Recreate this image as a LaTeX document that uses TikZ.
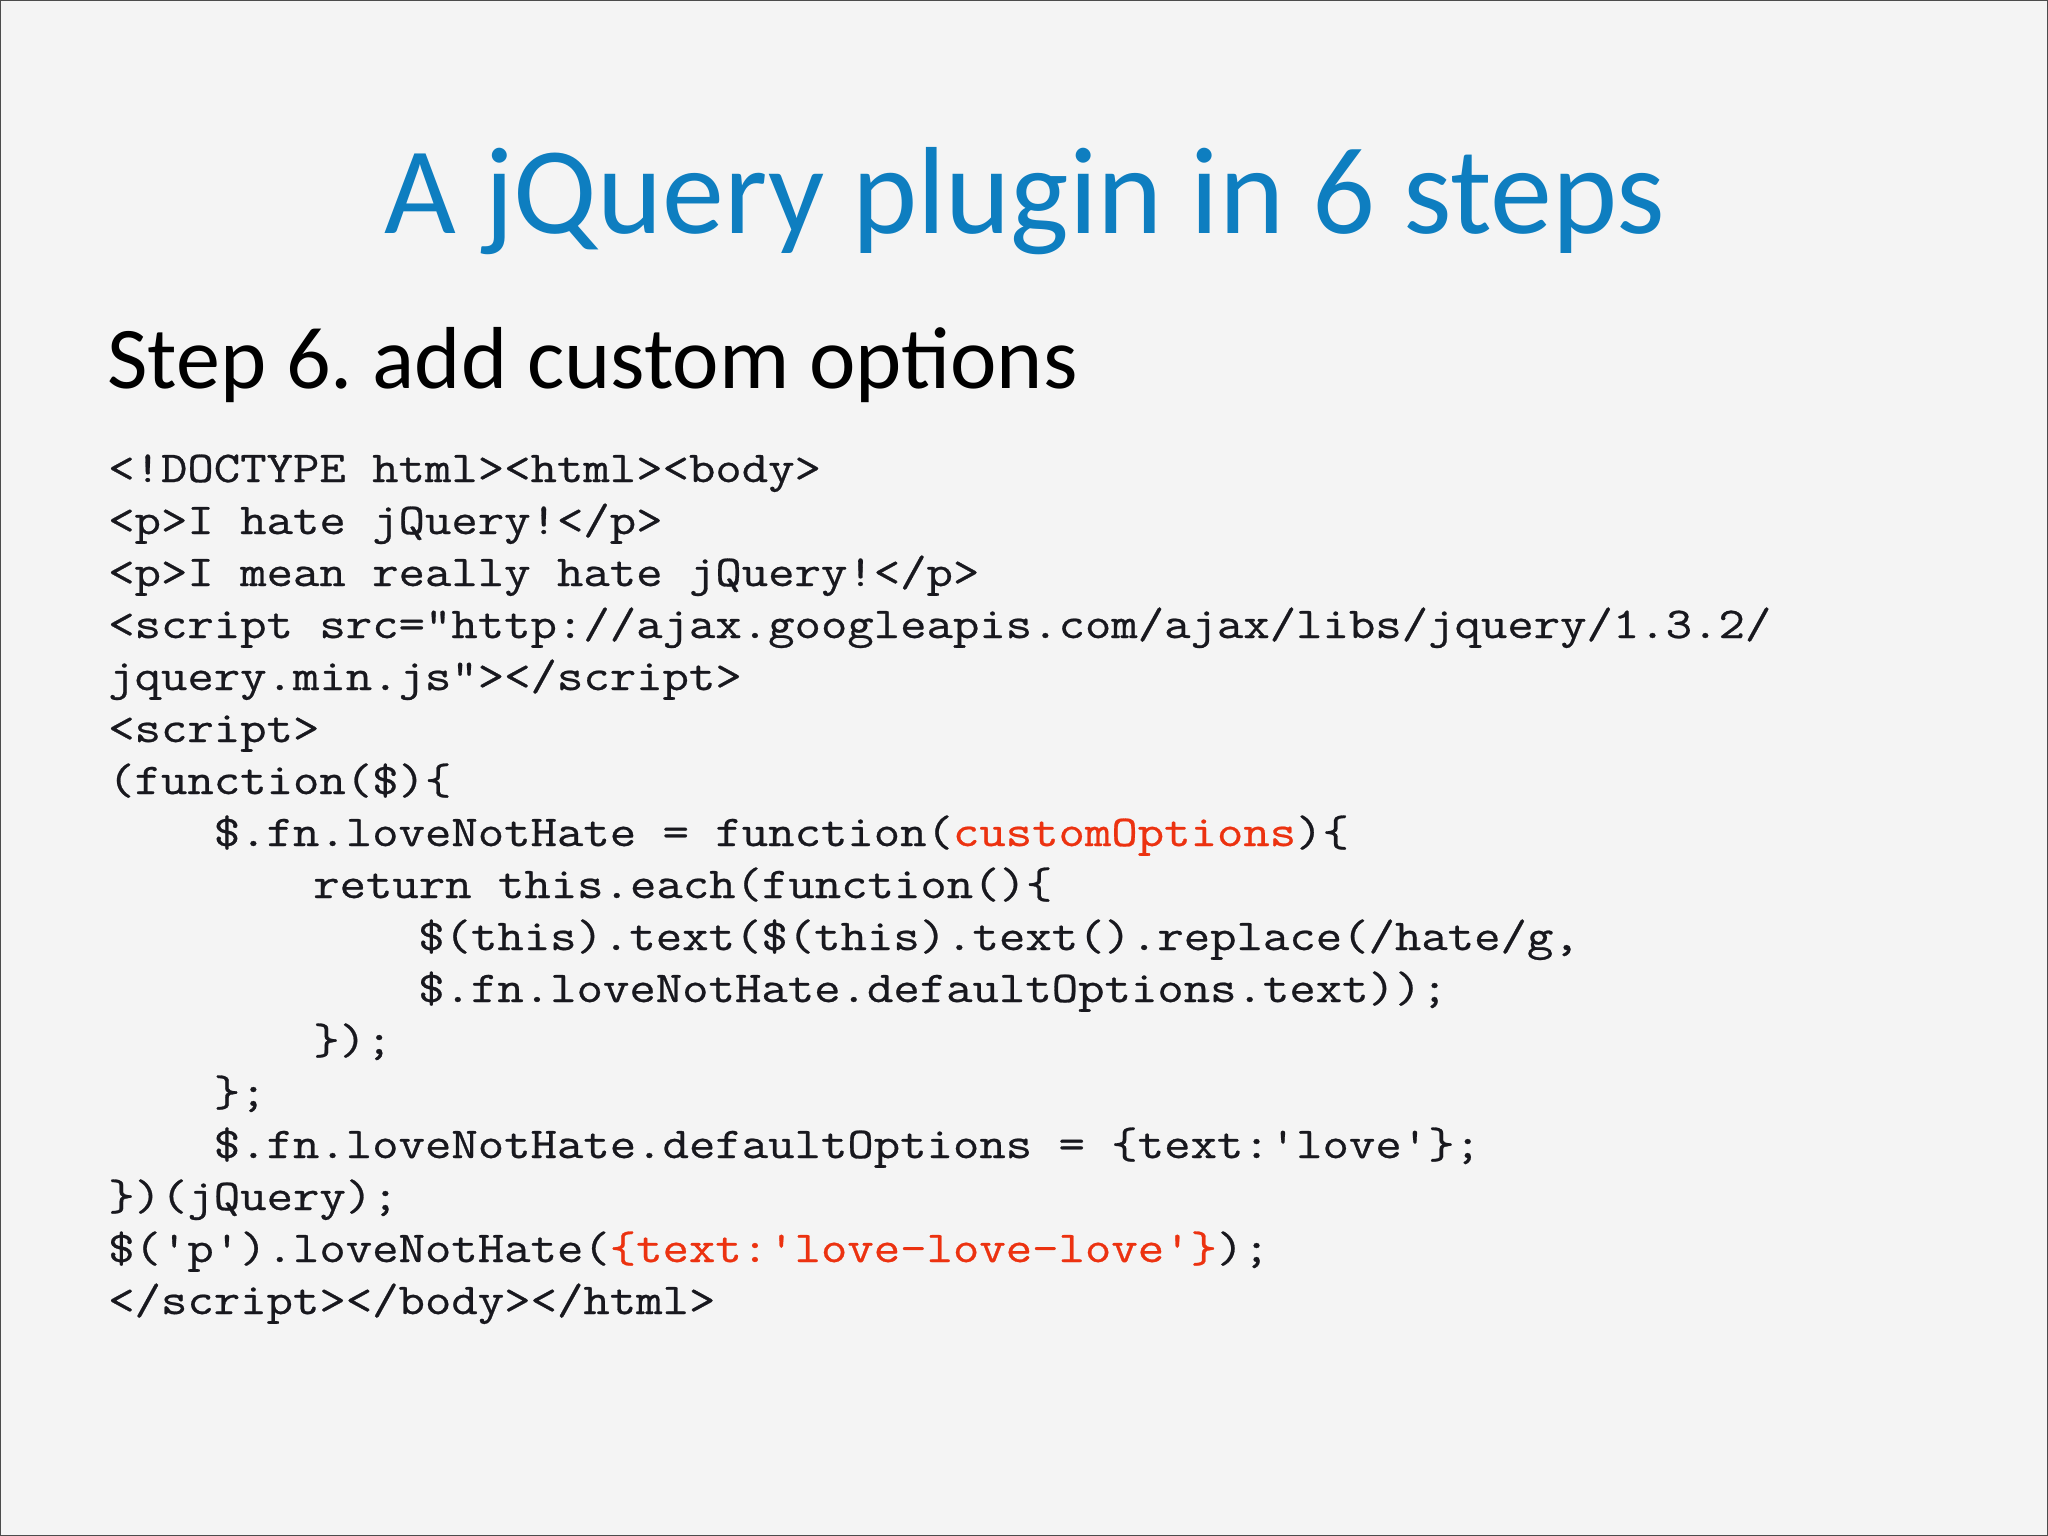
\documentclass[tikz,border=0pt]{standalone}
\usepackage{fontspec}
\setmonofont{Latin Modern Mono}[FakeStretch=1.165,FakeBold=0.6]
\newfontfamily\slidefont{Carlito}
\usetikzlibrary{positioning}
\frenchspacing
\definecolor{titleblue}{RGB}{14,126,192}
\definecolor{codered}{RGB}{236,50,16}
\definecolor{codeink}{RGB}{24,24,30}
\definecolor{paper}{RGB}{244,244,244}
\tikzset{
  codeline/.style={anchor=base west, inner sep=0pt, text=codeink,
    font=\ttfamily\fontsize{44}{52}\selectfont}
}
\newcommand{\red}[1]{\textcolor{codered}{#1}}

\begin{document}
\begin{tikzpicture}[x=1pt,y=-1pt]
\useasboundingbox (0,0) rectangle (2048,1536);
\fill[paper] (0,0) rectangle (2048,1536);
\draw[line width=2.5pt, black!70] (0,0) rectangle (2048,1536);
\draw (1025,233) node[anchor=base, inner sep=0pt, text=titleblue,
  font=\slidefont\fontsize{124}{146}\selectfont] (title) {A jQuery plugin in 6 steps};
\draw (107,388) node[anchor=base west, inner sep=0pt,
  font=\slidefont\fontsize{88}{104}\selectfont] (step) {Step 6. add custom options};
\draw (108,482) node[codeline] (l1) {<!DOCTYPE html><html><body>};
\draw (108,534) node[codeline] (l2) {<p>I hate jQuery!</p>};
\draw (108,586) node[codeline] (l3) {<p>I mean really hate jQuery!</p>};
\draw (108,638) node[codeline] (l4) {<script src="http://ajax.googleapis.com/ajax/libs/jquery/1.3.2/};
\draw (108,690) node[codeline] (l5) {jquery.min.js"></script>};
\draw (108,742) node[codeline] (l6) {<script>};
\draw (108,794) node[codeline] (l7) {(function(\$)\{};
\draw (213.6,846) node[codeline] (l8) {\$.fn.loveNotHate = function(\red{customOptions})\{};
\draw (313,898) node[codeline] (l9) {return this.each(function()\{};
\draw (418,950) node[codeline] (l10) {\$(this).text(\$(this).text().replace(/hate/g,};
\draw (418,1002) node[codeline] (l11) {\$.fn.loveNotHate.defaultOptions.text));};
\draw (313,1054) node[codeline] (l12) {\});};
\draw (213.6,1106) node[codeline] (l13) {\};};
\draw (213.6,1158) node[codeline] (l14) {\$.fn.loveNotHate.defaultOptions = \{text:'love'\};};
\draw (108,1210) node[codeline] (l15) {\})(jQuery);};
\draw (108,1262) node[codeline] (l16) {\$('p').loveNotHate(\red{\{text:'love-love-love'\}});};
\draw (108,1314) node[codeline] (l17) {</script></body></html>};
%\draw[step=52] (0,0) grid (2048,1536);
\end{tikzpicture}
\end{document}
